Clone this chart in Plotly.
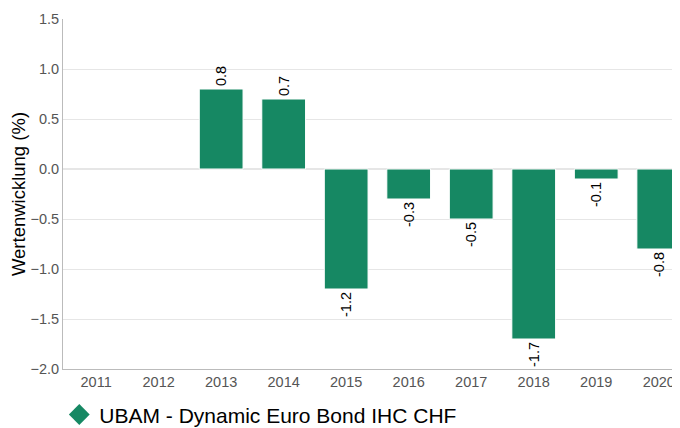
import plotly.graph_objects as go

years = ["2011", "2012", "2013", "2014", "2015", "2016", "2017", "2018", "2019", "2020"]
values = [None, None, 0.8, 0.7, -1.2, -0.3, -0.5, -1.7, -0.1, -0.8]
labels = ["" if v is None else f"{v:.1f}" for v in values]
series_name = "UBAM - Dynamic Euro Bond IHC CHF"
color = "#168863"
FONT = "Liberation Sans, Arial, sans-serif"

fig = go.Figure()
fig.add_trace(go.Bar(
    x=years, y=values, text=labels, textposition="outside", textangle=-90,
    textfont=dict(family=FONT, size=14.5, color="#000000"),
    marker=dict(color=color, line=dict(color="#ffffff", width=1)),
    width=0.7, showlegend=False, cliponaxis=False,
))
fig.add_trace(go.Scatter(
    x=[None], y=[None], mode="markers", name=series_name,
    marker=dict(symbol="diamond", size=22, color=color),
    showlegend=True,
))

fig.update_layout(
    width=672, height=420,
    margin=dict(l=55, r=0, t=11, b=59, autoexpand=False),
    paper_bgcolor="white", plot_bgcolor="white",
    font=dict(family=FONT, color="#555555"),
    legend=dict(orientation="h", x=-0.006, xanchor="left", y=-0.131, yanchor="middle",
                font=dict(size=21, color="#000000"), itemsizing="trace"),
    xaxis=dict(type="category", range=[-0.53, 9.34], showgrid=False, automargin=False,
               showline=True, linecolor="#bbbbbb", linewidth=1, ticks="",
               tickfont=dict(size=14.5, color="#555555")),
    yaxis=dict(range=[-2.0, 1.5], dtick=0.5, tickformat=".1f", automargin=False,
               showgrid=True, gridcolor="#e6e6e6", zeroline=True, zerolinecolor="#e6e6e6",
               showline=True, linecolor="#bbbbbb", linewidth=1,
               tickfont=dict(size=14.5, color="#555555"),
               title=dict(text="Wertenwicklung (%)", font=dict(size=18.5, color="#000000"), standoff=8)),
    bargap=0.3,
)

fig.write_html("out.html")
